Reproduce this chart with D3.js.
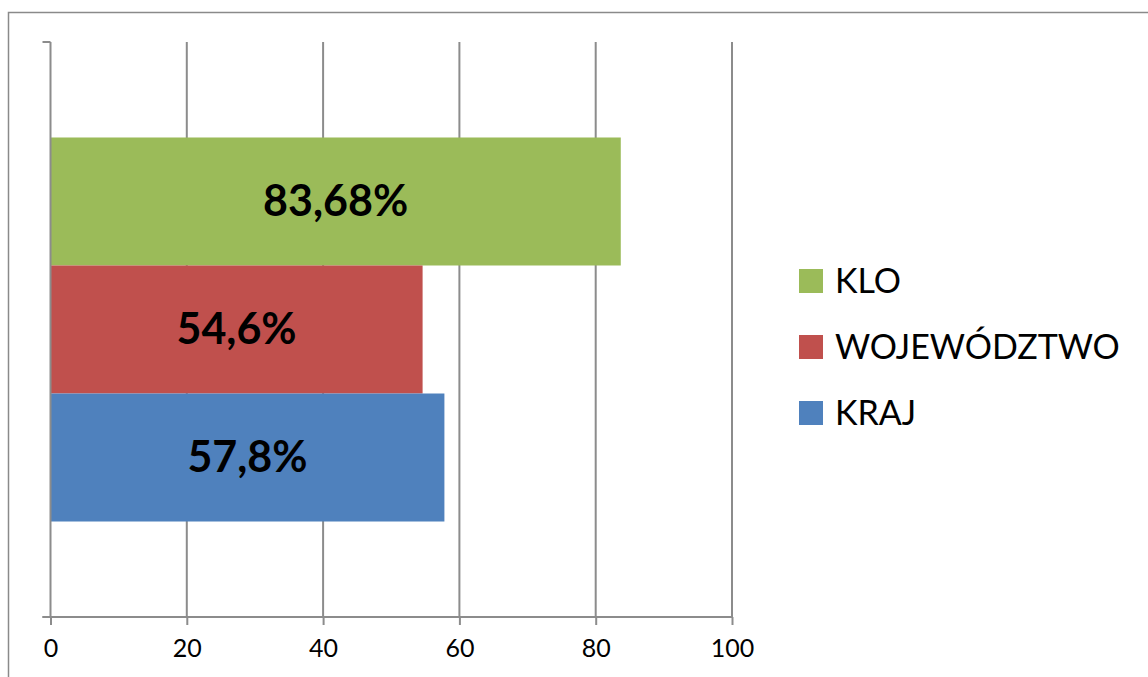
<!DOCTYPE html>
<html>
<head>
<meta charset="utf-8">
<script src="https://cdn.jsdelivr.net/npm/d3@7"></script>
<style>
  body { margin: 0; background: #fff; }
  svg { display: block; font-family: Lato, "Open Sans", sans-serif; }
</style>
</head>
<body>
<svg id="chart" width="1148" height="677"></svg>
<script>
// series, top to bottom as drawn
const seriesNames = ["KLO", "WOJEWÓDZTWO", "KRAJ"];
const seriesValues = [83.68, 54.6, 57.8];
const valueLabels = ["83,68%", "54,6%", "57,8%"];
const seriesColors = ["#9BBB59", "#C0504D", "#4F81BD"];
const xTicks = [0, 20, 40, 60, 80, 100];

const svg = d3.select("#chart");

// outer chart border (right and bottom edges are off-canvas)
svg.append("rect")
    .attr("x", 8.5).attr("y", 12.5)
    .attr("width", 1200).attr("height", 700)
    .attr("fill", "none")
    .attr("stroke", "#8a8a8a")
    .attr("stroke-width", 1.5);

const plot = { left: 50.5, right: 732, top: 42, bottom: 617 };

const x = d3.scaleLinear()
    .domain([0, 100])
    .range([plot.left, plot.right]);

const y = d3.scaleBand()
    .domain(seriesNames)
    .range([plot.top, plot.bottom])
    .paddingInner(0)
    .paddingOuter(0.746);

// vertical gridlines
svg.append("g")
    .selectAll("line")
    .data(xTicks.slice(1))
    .join("line")
    .attr("x1", d => x(d)).attr("x2", d => x(d))
    .attr("y1", plot.top).attr("y2", plot.bottom)
    .attr("stroke", "#8c8c8c")
    .attr("stroke-width", 2);

// bars
svg.append("g")
    .selectAll("rect")
    .data(seriesNames)
    .join("rect")
    .attr("x", x(0))
    .attr("y", d => y(d))
    .attr("width", (d, i) => x(seriesValues[i]) - x(0))
    .attr("height", y.bandwidth())
    .attr("fill", (d, i) => seriesColors[i]);

// value labels
svg.append("g")
    .selectAll("text")
    .data(seriesNames)
    .join("text")
    .attr("x", (d, i) => (x(0) + x(seriesValues[i])) / 2)
    .attr("y", d => y(d) + y.bandwidth() / 2)
    .attr("dy", "0.34em")
    .attr("text-anchor", "middle")
    .attr("font-weight", "bold")
    .attr("font-size", 43)
    .attr("fill", "#000")
    .text((d, i) => valueLabels[i]);

// x axis
const xAxis = svg.append("g")
    .attr("transform", `translate(0,${plot.bottom})`)
    .call(d3.axisBottom(x).tickValues(xTicks).tickSize(8).tickPadding(14).tickSizeOuter(0));
xAxis.select(".domain").attr("stroke", "#8c8c8c").attr("stroke-width", 2)
    .attr("d", `M${plot.left - 8},0H${plot.right}`);
xAxis.selectAll(".tick line").attr("stroke", "#8c8c8c").attr("stroke-width", 2);
xAxis.selectAll(".tick text")
    .attr("font-size", 25)
    .attr("font-family", "Lato, sans-serif")
    .attr("fill", "#000");

// y axis: one category, ticks only at its edges
const yAxis = svg.append("g");
yAxis.append("line")
    .attr("x1", plot.left).attr("x2", plot.left)
    .attr("y1", plot.top).attr("y2", plot.bottom)
    .attr("stroke", "#8c8c8c").attr("stroke-width", 2);
yAxis.selectAll(".ytick")
    .data([plot.top, plot.bottom])
    .join("line")
    .attr("class", "ytick")
    .attr("x1", plot.left - 8).attr("x2", plot.left)
    .attr("y1", d => d).attr("y2", d => d)
    .attr("stroke", "#8c8c8c").attr("stroke-width", 2);

// legend
const legend = svg.append("g")
    .selectAll("g")
    .data(seriesNames)
    .join("g")
    .attr("transform", (d, i) => `translate(799,${281 + i * 66})`);
legend.append("rect")
    .attr("x", 0).attr("y", -12)
    .attr("width", 24).attr("height", 24)
    .attr("fill", (d, i) => seriesColors[i]);
legend.append("text")
    .attr("x", 36)
    .attr("y", 0)
    .attr("dy", "0.36em")
    .attr("font-size", 34)
    .attr("fill", "#000")
    .text(d => d);
</script>
</body>
</html>
